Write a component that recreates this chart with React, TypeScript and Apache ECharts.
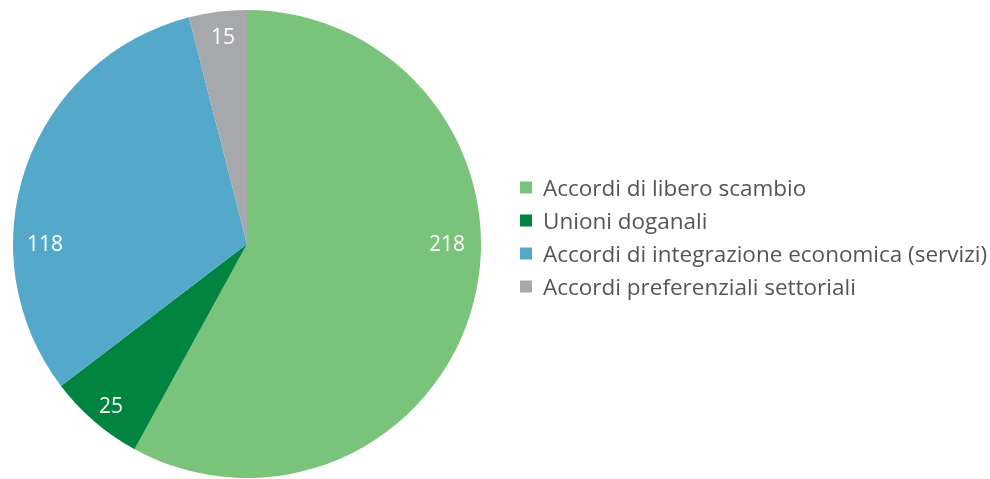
import React, { useEffect, useRef } from "react";
import * as echarts from "echarts";

const categories = [
  "Accordi di libero scambio",
  "Unioni doganali",
  "Accordi di integrazione economica (servizi)",
  "Accordi preferenziali settoriali",
];
const values = [218, 25, 118, 15];
const colors = ["#79c37a", "#00843f", "#54a9cb", "#a7a8ab"];
// label anchor points (pixels) as placed in the reference
const labelSpots = [
  [447, 243],
  [111, 405],
  [45, 243],
  [223, 36],
];

export default function App() {
  const ref = useRef<HTMLDivElement>(null);
  useEffect(() => {
    if (!ref.current) return;
    const chart = echarts.init(ref.current, undefined, { renderer: "svg" });
    const data = categories.map((name, i) => ({ name, value: values[i] }));
    chart.setOption({
      animation: false,
      color: colors,
      legend: {
        orient: "vertical",
        left: 520,
        top: 176,
        padding: 0,
        itemWidth: 12,
        itemHeight: 12,
        itemGap: 10,
        icon: "rect",
        selectedMode: false,
        data: categories,
        textStyle: {
          fontFamily: "Open Sans",
          fontSize: 22.5,
          lineHeight: 22,
          color: "#555555",
          padding: [0, 0, 0, 6],
        },
      },
      series: [
        {
          type: "pie",
          center: [247, 244],
          radius: [0, 234],
          startAngle: 90,
          clockwise: true,
          data,
          silent: true,
          itemStyle: { borderWidth: 0 },
          label: {
            show: true,
            position: "inside",
            formatter: "{c}",
            color: "#ffffff",
            fontFamily: "Open Sans",
            fontSize: 21,
          },
          labelLine: { show: false },
          labelLayout: (p: any) => ({
            x: labelSpots[p.dataIndex][0],
            y: labelSpots[p.dataIndex][1],
            align: "center",
            verticalAlign: "middle",
          }),
        },
      ],
    });
    return () => chart.dispose();
  }, []);
  return (
    <div
      ref={ref}
      style={{ position: "fixed", left: 0, top: 0, width: 990, height: 479 }}
    />
  );
}
